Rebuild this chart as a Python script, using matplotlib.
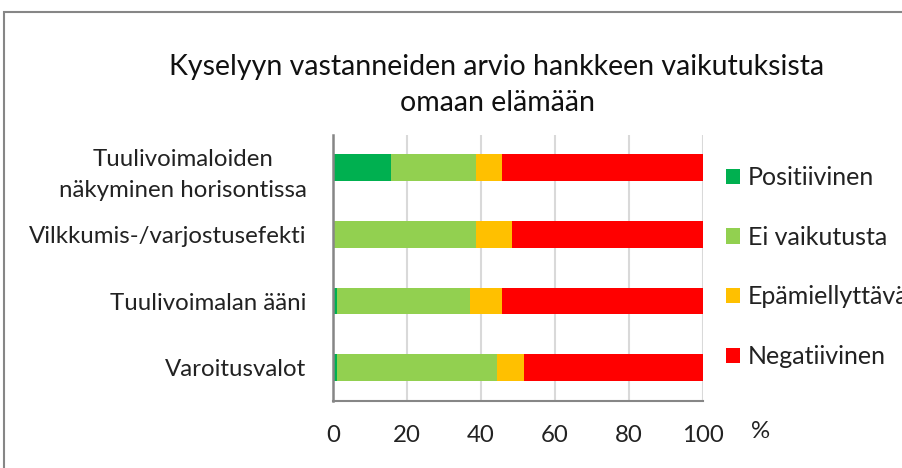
import matplotlib
matplotlib.use("Agg")
import matplotlib.pyplot as plt
from matplotlib.patches import Patch, Rectangle

categories = ["Tuulivoimaloiden\nnäkyminen horisontissa",
              "Vilkkumis-/varjostusefekti",
              "Tuulivoimalan ääni",
              "Varoitusvalot"]
series = ["Positiivinen", "Ei vaikutusta", "Epämiellyttävä", "Negatiivinen"]
positiivinen = [15.8, 0.0, 1.2, 1.2]
ei_vaikutusta = [22.9, 38.7, 35.7, 43.1]
epamiellyttava = [7.0, 9.8, 8.8, 7.2]
negatiivinen = [54.3, 51.5, 54.3, 48.5]
colors = ["#00B050", "#92D050", "#FFC000", "#FF0000"]
xticks = [0, 20, 40, 60, 80, 100]

plt.rcParams['font.family'] = ['Lato', 'DejaVu Sans']

fig = plt.figure(figsize=(9.02, 4.68), dpi=100)
ax = fig.add_axes([0.3692, 0.1432, 0.4102, 0.5694])

# outer chart border
fig.patches.append(Rectangle((4 / 902, -0.1), 1.2, 1 - 12 / 468 + 0.1,
                             transform=fig.transFigure, fill=False,
                             edgecolor="#868686", linewidth=1.5))

ypos = list(range(len(categories)))
left = [0.0] * len(categories)
for vals, col, name in zip([positiivinen, ei_vaikutusta, epamiellyttava, negatiivinen],
                           colors, series):
    ax.barh(ypos, vals, left=left, height=0.4, color=col, label=name, zorder=3)
    left = [a + b for a, b in zip(left, vals)]

ax.set_xlim(0, 100)
ax.set_ylim(3.5, -0.5)
ax.set_xticks(xticks)
ax.set_xticklabels([str(t) for t in xticks], fontsize=17.3, color="#222222")
ax.set_yticks(ypos)
ax.set_yticklabels(categories, fontsize=17.3, color="#222222", ha="right",
                   multialignment="center", linespacing=1.6)
ax.tick_params(axis="x", length=0, pad=17.5)
ax.tick_params(axis="y", length=0, pad=19)
ax.grid(axis="x", color="#D9D9D9", linewidth=1.5, zorder=0)
for s in ["top", "right"]:
    ax.spines[s].set_visible(False)
ax.spines["left"].set_color("#868686")
ax.spines["left"].set_linewidth(1.8)
ax.spines["left"].set_zorder(4)
ax.spines["bottom"].set_color("#868686")
ax.spines["bottom"].set_linewidth(1.5)

fig.text(751 / 902, 1 - 432 / 468, "%", fontsize=17.3, color="#222222",
         ha="left", va="center")

fig.text(497 / 902, 1 - 85 / 468,
         "Kyselyyn vastanneiden arvio hankkeen vaikutuksista\nomaan elämään",
         fontsize=20.5, color="#111111", ha="center", va="center",
         linespacing=1.45)

handles = [Patch(facecolor=c) for c in colors]
fig.legend(handles, series, loc="upper left",
           bbox_to_anchor=(716 / 902, 1 - 156 / 468), frameon=False,
           fontsize=18, handlelength=0.56, handleheight=0.56,
           handletextpad=0.3, labelspacing=1.47, borderaxespad=0,
           labelcolor="#222222")

fig.savefig("out.png", dpi=100)
